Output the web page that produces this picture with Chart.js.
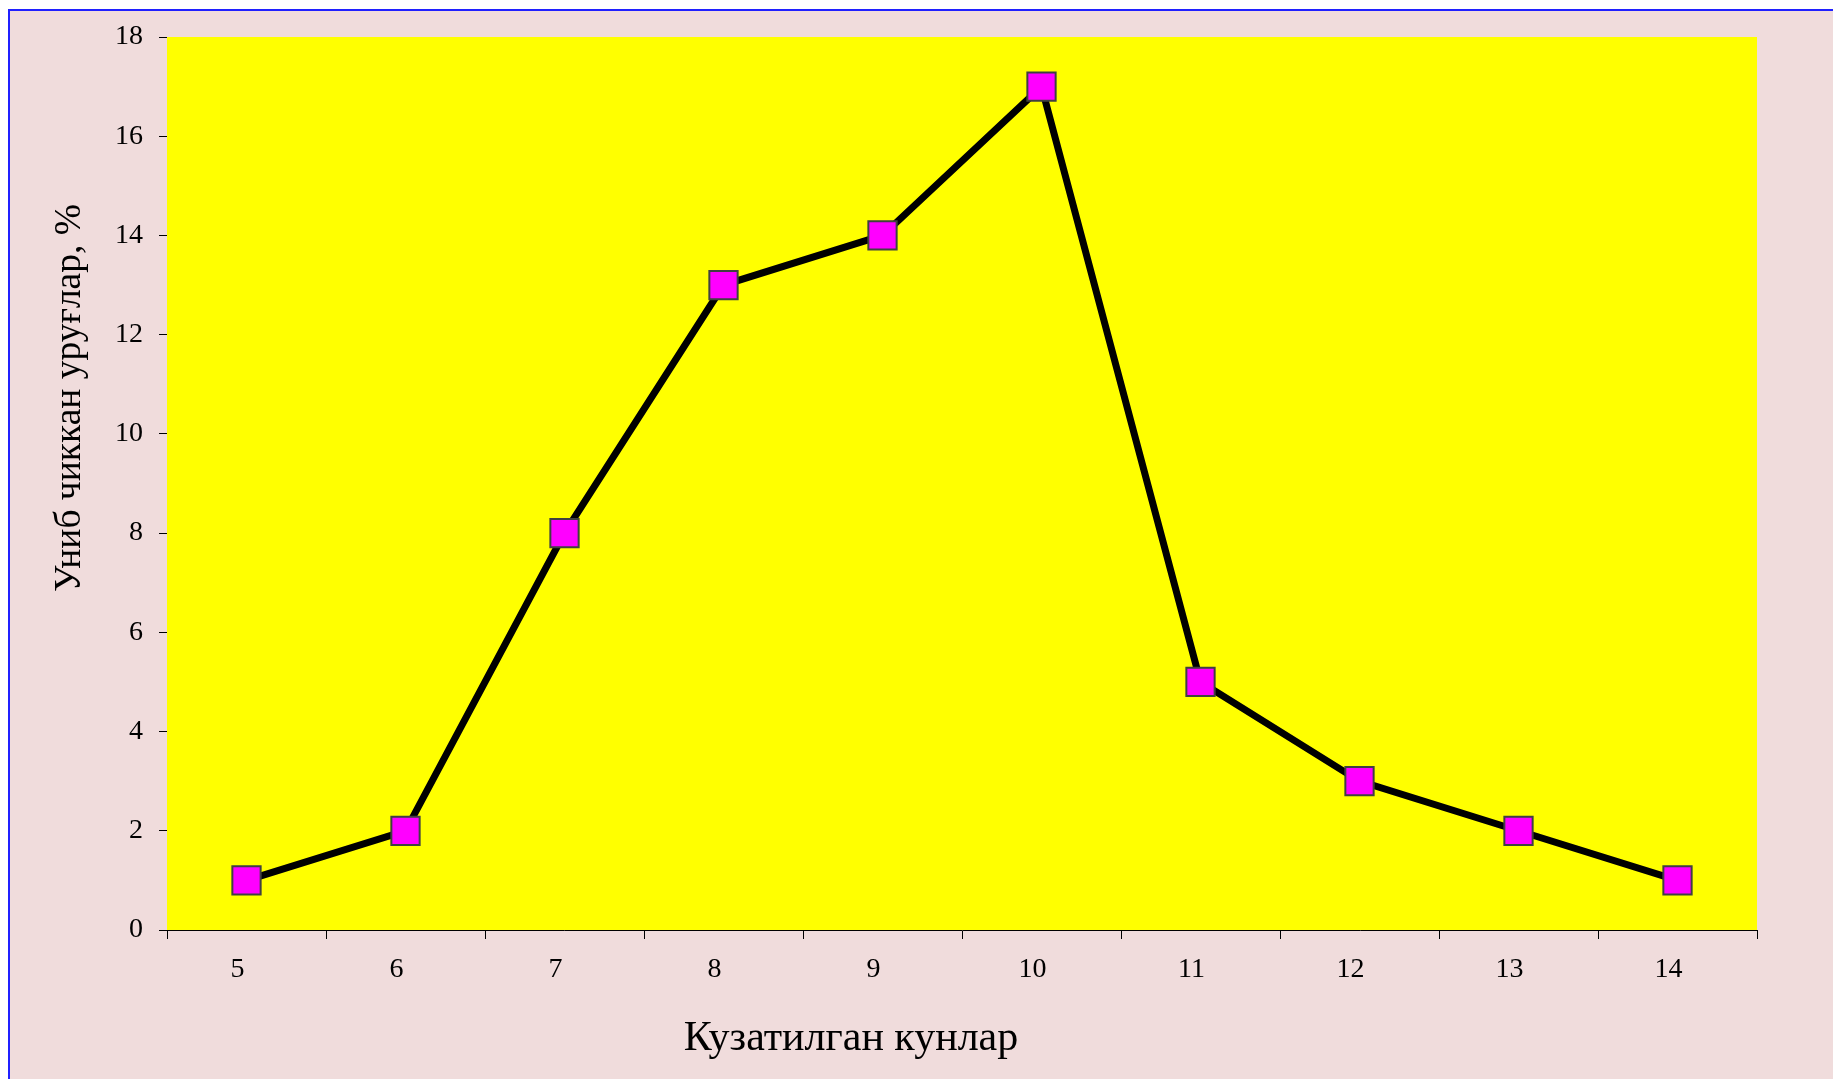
<!DOCTYPE html>
<html>
<head>
<meta charset="utf-8">
<script src="https://cdn.jsdelivr.net/npm/chart.js@4.4.0/dist/chart.umd.min.js"></script>
<style>
  html, body { margin:0; padding:0; background:#fff; overflow:hidden; }
  #frame { position:absolute; left:8px; top:9px; width:1900px; height:1200px;
           background:#F0DCDC; border-left:2px solid #2020ff; border-top:2px solid #2020ff; }
  #wrap { position:absolute; left:0; top:0; width:1833px; height:1079px; }
</style>
</head>
<body>
<div id="frame"></div>
<div id="wrap"><canvas id="grafUnib" width="1833" height="1079"></canvas></div>
<script>
// kuzatilgan kunlar va unib chiqqan urug'lar (%)
const kunlar = ['5','6','7','8','9','10','11','12','13','14']
const unibChiqqan = [1, 2, 8, 13, 14, 17, 5, 3, 2, 1]
const yTicks = [0, 2, 4, 6, 8, 10, 12, 14, 16, 18]

const xTitle = 'Кузатилган кунлар'
const yTitle = 'Униб чиккан уруғлар, %'

const fon = {
    id: 'fon',
    beforeDatasetsDraw(chart){
        const {ctx, chartArea:a} = chart
        ctx.save()
        ctx.fillStyle = '#FFFF00'
        ctx.fillRect(a.left, a.top, a.right - a.left, a.bottom - a.top)
        ctx.restore()
    },
    afterDraw(chart){
        const ctx = chart.ctx
        ctx.save()
        ctx.fillStyle = '#000'
        ctx.font = '42px "Liberation Serif"'
        ctx.textAlign = 'center'
        ctx.textBaseline = 'alphabetic'
        ctx.fillText(xTitle, 851, 1050)
        ctx.translate(80, 398)
        ctx.rotate(-Math.PI/2)
        ctx.font = '37.5px "Liberation Serif"'
        ctx.fillText(yTitle, 0, 0)
        ctx.restore()
    }
}

document.addEventListener('DOMContentLoaded',()=>{
    new Chart(document.getElementById('grafUnib'),{
        type:'line',
        plugins:[fon],
        data:{
            labels: kunlar,
            datasets:[{
                data: unibChiqqan,
                borderColor:'#000',
                borderWidth:7,
                pointStyle:'rect',
                pointRadius:20,
                pointBackgroundColor:'#FF00FF',
                pointBorderColor:'#404040',
                pointBorderWidth:2,
                tension:0,
            }]
        },
        options:{
            responsive:false,
            animation:false,
            layout:{ padding:{ left:0, top:37, right:76, bottom:0 } },
            plugins:{ legend:{display:false}, tooltip:{enabled:false} },
            scales:{
                x:{
                    offset:true,
                    grid:{
                        display:true,
                        offset:true,
                        drawOnChartArea:false,
                        drawTicks:true,
                        tickLength:9,
                        color:'#000',
                    },
                    border:{ display:true, color:'#000', width:1 },
                    ticks:{
                        color:'#000',
                        font:{ family:'Liberation Serif', size:28 },
                        padding:14,
                        labelOffset:-9,
                        maxRotation:0,
                    },
                    afterFit(s){ s.height = 149 },
                },
                y:{
                    min:0,
                    max:18,
                    afterBuildTicks(s){ s.ticks = yTicks.map(v => ({value:v})) },
                    grid:{
                        display:true,
                        drawOnChartArea:false,
                        tickLength:8,
                        color:'#000',
                    },
                    border:{ display:true, color:'#000', width:1 },
                    ticks:{
                        color:'#000',
                        font:{ family:'Liberation Serif', size:28 },
                        padding:16,
                    },
                    afterFit(s){ s.width = 167 },
                },
            },
        },
    })
})
</script>
</body>
</html>
